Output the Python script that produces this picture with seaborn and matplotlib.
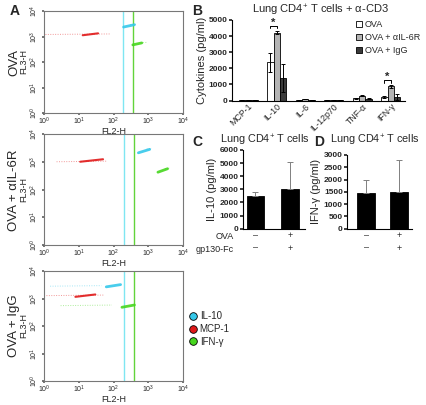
import numpy as np
import pandas as pd
import matplotlib
matplotlib.use("Agg")
import matplotlib.pyplot as plt
import seaborn as sns
from matplotlib.patches import Patch
from matplotlib.lines import Line2D
from matplotlib.ticker import LogLocator, NullLocator

sns.set_theme(style="white")
plt.rcParams['font.family'] = ['Liberation Sans', 'DejaVu Sans']
plt.rcParams['mathtext.fontset'] = 'custom'
plt.rcParams['mathtext.rm'] = 'Liberation Sans'
plt.rcParams['mathtext.it'] = 'Liberation Sans:italic'
plt.rcParams['mathtext.default'] = 'regular'

# ---------------- Panel A data (FACS, FL2-H vs FL3-H) ----------------
facs_rows = ["OVA", "OVA + αIL-6R", "OVA + IgG"]
gate_il10 = [186, 195, 200]
gate_ifng = [365, 380, 380]
# sparse tails: (x_start, x_end, y)
red_spread = [(1.1, 80, 1200), (2.3, 66, 1000), (1.0, 55, 1270)]
cyan_spread = [(300, 470, 2900), (900, 1250, 2900), (1.5, 45, 2800)]
green_spread = [(600, 900, 560), (3000, 4200, 560), (3.0, 90, 550)]
# dense clusters: (x_start, x_end, y_start, y_end)
red_dense = [(13, 36, 1120, 1330), (11, 50, 1000, 1230), (8, 30, 1150, 1400)]
cyan_dense = [(195, 400, 2350, 2900), (520, 1100, 2100, 2800), (62, 160, 2650, 3200)]
green_dense = [(360, 650, 470, 560), (1900, 3600, 420, 560), (175, 400, 480, 580)]
facs_colors = {"IL-10": "#35c8ea", "MCP-1": "#e01818", "IFN-γ": "#46d61e"}

# ---------------- Panel B data ----------------
cytokines = ["MCP-1", "IL-10", "IL-6", "IL-12p70", "TNF-α", "IFN-γ"]
groups_b = ["OVA", "OVA + αIL-6R", "OVA + IgG"]
ova_mean = [20, 2380, 20, 10, 130, 220]
ova_err = [5, 580, 5, 5, 20, 60]
il6r_mean = [40, 4200, 80, 30, 300, 870]
il6r_err = [5, 100, 15, 5, 20, 80]
igg_mean = [30, 1380, 40, 20, 110, 210]
igg_err = [5, 870, 10, 5, 20, 180]
colors_b = ["white", "#b4b4b4", "#3a3a3a"]
sig_pairs = [1, 5]   # categories with significance brackets
sig_heights = [4480, 1100]

# ---------------- Panels C and D ----------------
ova_sign = ["–", "+"]
gp130_sign = ["–", "+"]
il10_mean = [2500, 3000]
il10_err = [280, 2050]
ifng_mean = [1450, 1500]
ifng_err = [530, 1300]

W, H = 426, 405
fig = plt.figure(figsize=(W / 100, H / 100), dpi=100)


def px_axes(l, t, r, b):
    return fig.add_axes([l / W, 1 - b / H, (r - l) / W, (b - t) / H])


# ======================= Panel A =======================
a_boxes = [(44, 11, 183, 113), (44, 134, 183, 245), (44, 271, 183, 381)]
row_centers = [62, 190, 326]
for k, box in enumerate(a_boxes):
    ax = px_axes(*box)
    ax.set_xscale("log")
    ax.set_yscale("log")
    ax.set_xlim(1, 1e4)
    ax.set_ylim(1, 1e4)
    ax.axvline(gate_il10[k], color="#7fe6f2", lw=1.0)
    ax.axvline(gate_ifng[k], color="#62d43a", lw=1.0)
    for spread, dense, col, lw in [(red_spread, red_dense, facs_colors["MCP-1"], 1.5),
                                   (cyan_spread, cyan_dense, facs_colors["IL-10"], 2.0),
                                   (green_spread, green_dense, facs_colors["IFN-γ"], 2.0)]:
        x0, x1, yv = spread[k]
        sns.lineplot(x=[x0, x1], y=[yv, yv * 1.05], ax=ax, color=col, lw=0.7,
                     alpha=0.45, linestyle=(0, (1, 1.5)), legend=False)
        dx0, dx1, dy0, dy1 = dense[k]
        ax.plot([dx0, dx1], [dy0, dy1], color=col, lw=lw,
                solid_capstyle="round", alpha=0.9)
    ax.xaxis.set_major_locator(LogLocator(base=10, numticks=5))
    ax.yaxis.set_major_locator(LogLocator(base=10, numticks=5))
    ax.xaxis.set_minor_locator(NullLocator())
    ax.yaxis.set_minor_locator(NullLocator())
    ax.tick_params(axis="x", labelsize=5, length=1.2, pad=0.5, color="#666666",
                   bottom=True)
    ax.tick_params(axis="y", labelsize=5, length=1.2, pad=1.8, color="#666666",
                   left=True)
    for lab in ax.get_yticklabels():
        lab.set_rotation(90)
        lab.set_va("center")
    for s in ax.spines.values():
        s.set_color("#777777")
        s.set_linewidth(0.8)
    ax.set_xlabel("FL2-H", fontsize=6.5, labelpad=0.5)
    ax.set_ylabel("FL3-H", fontsize=6.5, labelpad=0.3)
    fig.text(14 / W, 1 - row_centers[k] / H, facs_rows[k], rotation=90,
             fontsize=9.5, ha="center", va="center")

legend_a = [Line2D([], [], marker="o", linestyle="none", markersize=5.5,
                   markerfacecolor=facs_colors[n], markeredgecolor="black",
                   markeredgewidth=0.6, label=n) for n in ["IL-10", "MCP-1", "IFN-γ"]]
fig.legend(handles=legend_a, loc="upper left", bbox_to_anchor=(188 / W, 1 - 311 / H),
           frameon=False, borderpad=0, handlelength=1.0, handletextpad=0.2,
           labelspacing=0.3, fontsize=7, borderaxespad=0)

# ======================= Panel B =======================
axB = px_axes(232, 20, 405, 100.5)
df_b = pd.DataFrame({
    "cytokine": cytokines * 3,
    "group": [g for g in groups_b for _ in cytokines],
    "value": ova_mean + il6r_mean + igg_mean,
})
bw = 0.67
sns.barplot(data=df_b, x="cytokine", y="value", hue="group", order=cytokines,
            hue_order=groups_b, palette=colors_b, width=bw, errorbar=None,
            edgecolor="black", linewidth=0.6, legend=False, ax=axB, saturation=1)
means = [ova_mean, il6r_mean, igg_mean]
errs = [ova_err, il6r_err, igg_err]
xs = np.arange(len(cytokines))
for i in range(3):
    off = (i - 1) * bw / 3
    axB.errorbar(xs + off, means[i], yerr=errs[i], fmt="none", ecolor="black",
                 elinewidth=0.7, capsize=1.6, capthick=0.7)
for ci, hgt in zip(sig_pairs, sig_heights):
    xa = ci - bw / 3
    xb = ci
    top = hgt + 170
    axB.plot([xa, xa, xb, xb], [hgt, top, top, hgt], color="black", lw=0.7,
             clip_on=False)
    axB.text((xa + xb) / 2, top + 200, "*", ha="center", va="center", fontsize=8,
             fontweight="bold")
axB.set_xlim(-0.57, 5.5)
axB.set_ylim(0, 5000)
axB.set_yticks([0, 1000, 2000, 3000, 4000, 5000])
axB.set_xlabel("")
axB.set_ylabel("Cytokines (pg/ml)", fontsize=8, labelpad=1)
axB.tick_params(axis="y", labelsize=6, length=2, pad=1, left=True)
axB.tick_params(axis="x", labelsize=6.3, length=0, pad=1)
for lab in axB.get_yticklabels():
    lab.set_fontweight("bold")
for lab in axB.get_xticklabels():
    lab.set_rotation(45)
    lab.set_ha("right")
    lab.set_rotation_mode("anchor")
sns.despine(ax=axB)
for s in ["left", "bottom"]:
    axB.spines[s].set_color("black")
    axB.spines[s].set_linewidth(0.8)
fig.text(320 / W, 1 - 10 / H, "Lung CD4$^{+}$ T cells + α-CD3", fontsize=8,
         ha="center", va="center")
legend_b = [Patch(facecolor=c, edgecolor="black", linewidth=0.6, label=g)
            for c, g in zip(colors_b, groups_b)]
axB.legend(handles=legend_b, loc="upper left", bbox_to_anchor=(356 / W, 1 - 20 / H),
           bbox_transform=fig.transFigure, frameon=False, borderpad=0,
           handlelength=0.7, handleheight=0.7, handletextpad=0.3,
           labelspacing=0.45, fontsize=6.5, borderaxespad=0)


# ======================= Panels C, D =======================
def small_bar(ax, mean, err, yticks, ylabel, xlim, width):
    df = pd.DataFrame({"cond": ["a", "b"], "value": mean})
    sns.barplot(data=df, x="cond", y="value", color="black", width=width,
                errorbar=None, edgecolor="black", linewidth=0.6, ax=ax, saturation=1)
    ax.errorbar([0, 1], mean, yerr=[[0, 0], err], fmt="none", ecolor="#808080",
                elinewidth=0.7, capsize=2, capthick=0.7)
    ax.set_xlim(*xlim)
    ax.set_ylim(0, yticks[-1])
    ax.set_yticks(yticks)
    ax.set_xticks([0, 1])
    ax.set_xticklabels([f"{a}\n{b}" for a, b in zip(ova_sign, gp130_sign)],
                       fontsize=6.5, linespacing=1.45)
    ax.set_xlabel("")
    ax.set_ylabel(ylabel, fontsize=8, labelpad=2)
    ax.tick_params(axis="y", labelsize=6, length=2, pad=1, left=True)
    ax.tick_params(axis="x", length=0, pad=2)
    for lab in ax.get_yticklabels():
        lab.set_fontweight("bold")
    sns.despine(ax=ax)
    for s in ["left", "bottom"]:
        ax.spines[s].set_color("black")
        ax.spines[s].set_linewidth(0.8)


axC = px_axes(243, 150, 305, 228.7)
small_bar(axC, il10_mean, il10_err, [0, 1000, 2000, 3000, 4000, 5000, 6000],
          "IL-10 (pg/ml)", (-0.36, 1.43), 0.51)
axD = px_axes(347, 155, 412, 228.7)
small_bar(axD, ifng_mean, ifng_err, [0, 500, 1000, 1500, 2000, 2500, 3000],
          "IFN-γ (pg/ml)", (-0.58, 1.4), 0.55)
fig.text(265 / W, 1 - 140.5 / H, "Lung CD4$^{+}$ T cells", fontsize=7.8,
         ha="center", va="center")
fig.text(375 / W, 1 - 140.5 / H, "Lung CD4$^{+}$ T cells", fontsize=7.8,
         ha="center", va="center")

fig.text(234 / W, 1 - 236.5 / H, "OVA", fontsize=6.5, ha="right", va="center")
fig.text(234 / W, 1 - 249 / H, "gp130-Fc", fontsize=6.5, ha="right", va="center")

# panel letters
for letter, (x, y) in {"A": (15, 11), "B": (197, 11), "C": (197, 141.5),
                       "D": (319.5, 141.5)}.items():
    fig.text(x / W, 1 - y / H, letter, fontsize=10, fontweight="bold",
             ha="center", va="center")

fig.savefig("out.png", dpi=100)
